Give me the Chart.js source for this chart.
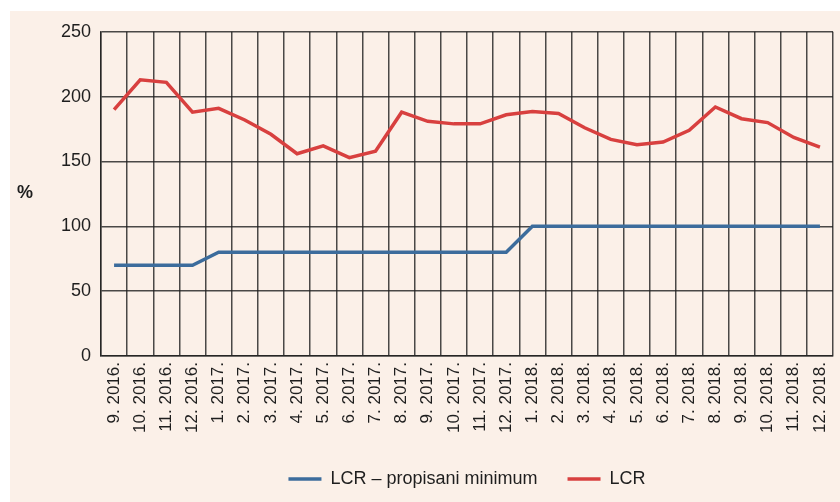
<!DOCTYPE html>
<html>
<head>
<meta charset="utf-8">
<script src="https://cdn.jsdelivr.net/npm/chart.js@4/dist/chart.umd.min.js"></script>
<style>
  html, body { margin: 0; padding: 0; background: #ffffff; }
  #wrap {
    position: absolute; left: 10px; top: 11px;
    width: 830px; height: 491px;
    background: #fbf0e8;
  }
</style>
</head>
<body>
<div id="wrap"><canvas id="lcrChart"></canvas></div>
<script>
// months on the x axis
const months = [
  '9. 2016.', '10. 2016.', '11. 2016.', '12. 2016.',
  '1. 2017.', '2. 2017.', '3. 2017.', '4. 2017.', '5. 2017.', '6. 2017.',
  '7. 2017.', '8. 2017.', '9. 2017.', '10. 2017.', '11. 2017.', '12. 2017.',
  '1. 2018.', '2. 2018.', '3. 2018.', '4. 2018.', '5. 2018.', '6. 2018.',
  '7. 2018.', '8. 2018.', '9. 2018.', '10. 2018.', '11. 2018.', '12. 2018.'
];

// LCR – propisani minimum (%)
const lcrMinimum = [
  70, 70, 70, 70,
  80, 80, 80, 80, 80, 80, 80, 80, 80, 80, 80, 80,
  100, 100, 100, 100, 100, 100, 100, 100, 100, 100, 100, 100
];

// LCR (%)
const lcrValues = [
  190, 213, 211, 188,
  191, 182, 171, 156, 162, 153, 158, 188, 181, 179, 179, 186,
  188.5, 187, 176, 167, 163, 165, 174, 192, 183, 180, 168.5, 161
];

const yTicks = { min: 0, max: 250, step: 50 };

const FONT = "'Liberation Sans', Arial, sans-serif";
const GRID = 'rgba(30,30,30,0.8)';

// horizontal "%" label left of the y axis
const percentLabel = {
  id: 'percentLabel',
  afterDraw(chart) {
    const ctx = chart.ctx;
    ctx.save();
    ctx.font = `bold 18px ${FONT}`;
    ctx.fillStyle = '#1e1e1e';
    ctx.textAlign = 'center';
    ctx.textBaseline = 'middle';
    ctx.fillText('%', 15, 182);
    ctx.restore();
  }
};

window.addEventListener('DOMContentLoaded', () => {
  const ctx = document.getElementById('lcrChart').getContext('2d');
  new Chart(ctx, {
    type: 'line',
    data: {
      labels: months,
      datasets: [
        {
          label: 'LCR – propisani minimum',
          data: lcrMinimum,
          borderColor: '#3c6c9c',
          backgroundColor: '#3c6c9c',
          borderWidth: 3.5,
          pointRadius: 0,
          tension: 0
        },
        {
          label: 'LCR',
          data: lcrValues,
          borderColor: '#d8403f',
          backgroundColor: '#d8403f',
          borderWidth: 3.5,
          pointRadius: 0,
          tension: 0
        }
      ]
    },
    options: {
      responsive: true,
      maintainAspectRatio: false,
      animation: false,
      layout: { padding: { top: 19, right: 7, bottom: 4, left: 0 } },
      scales: {
        x: {
          offset: true,
          grid: { offset: true, color: GRID, lineWidth: 1.5, drawTicks: false },
          border: { color: GRID, width: 1.5 },
          ticks: {
            autoSkip: false, minRotation: 90, maxRotation: 90,
            padding: 6, color: '#1e1e1e',
            font: { family: FONT, size: 17 }
          },
          afterFit: s => {
            s.height = 84;
            s.paddingLeft = 0;
            s.paddingRight = 0;
          }
        },
        y: {
          min: yTicks.min,
          max: yTicks.max,
          grid: { color: GRID, lineWidth: 1.5, drawTicks: false },
          border: { color: GRID, width: 1.5 },
          ticks: {
            stepSize: yTicks.step, padding: 10, color: '#1e1e1e',
            font: { family: FONT, size: 18 }
          },
          afterFit: s => { s.width = 91; }
        }
      },
      plugins: {
        legend: {
          position: 'bottom',
          fullSize: false,
          labels: {
            usePointStyle: true,
            pointStyle: 'line',
            pointStyleWidth: 33,
            boxHeight: 18,
            padding: 30,
            color: '#1e1e1e',
            font: { family: FONT, size: 18 }
          }
        },
        tooltip: { enabled: false }
      }
    },
    plugins: [percentLabel]
  });
});
</script>
</body>
</html>
